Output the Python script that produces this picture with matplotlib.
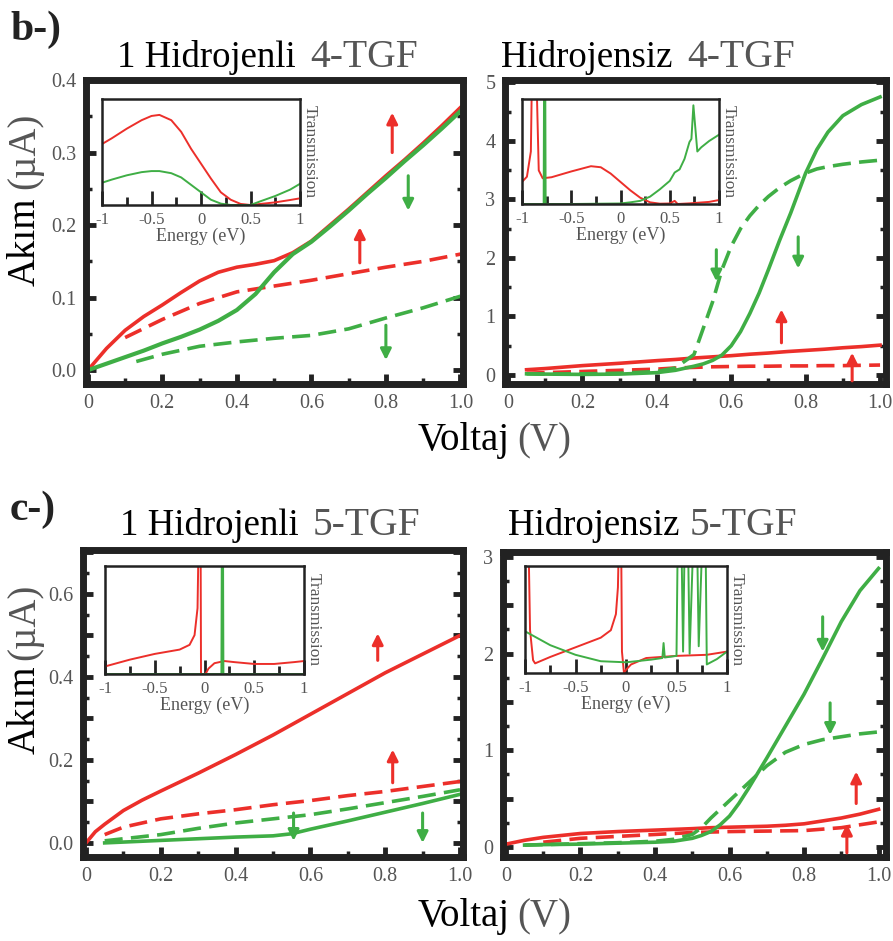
import numpy as np
import matplotlib
matplotlib.use('Agg')
import matplotlib.pyplot as plt
from matplotlib.ticker import MultipleLocator, FuncFormatter

plt.rcParams['font.family'] = ['Liberation Serif', 'DejaVu Serif']

RED = '#ec2f2a'
GREEN = '#3fae45'
GREY = '#555555'

# ---- b-) 1 Hidrojenli 4-TGF : current (uA) vs voltage (V)
v_b1 = [0, 0.05, 0.1, 0.15, 0.2, 0.25, 0.3, 0.35, 0.4, 0.45, 0.5, 0.55, 0.6, 0.65, 0.7, 0.75, 0.8, 0.85, 0.9, 0.95, 1.0]
up_solid_b1 = [0, 0.03, 0.055, 0.074, 0.09, 0.107, 0.123, 0.135, 0.142, 0.146, 0.151, 0.162, 0.178, 0.2, 0.222, 0.245, 0.268, 0.29, 0.313, 0.337, 0.362]
dn_solid_b1 = [0, 0.009, 0.018, 0.027, 0.037, 0.046, 0.056, 0.068, 0.083, 0.105, 0.135, 0.16, 0.177, 0.198, 0.22, 0.243, 0.265, 0.288, 0.31, 0.333, 0.357]
v_b1_dash = [0.1, 0.2, 0.3, 0.4, 0.5, 0.6, 0.7, 0.8, 0.9, 1.0]
up_dash_b1 = [0.045, 0.07, 0.092, 0.108, 0.116, 0.124, 0.133, 0.142, 0.15, 0.16]
v_b1_gdash = [0.13, 0.2, 0.3, 0.4, 0.5, 0.6, 0.7, 0.8, 0.9, 1.0]
dn_dash_b1 = [0.012, 0.022, 0.033, 0.039, 0.044, 0.048, 0.057, 0.072, 0.086, 0.102]

# ---- b-) Hidrojensiz 4-TGF
v_b2 = [0.05, 0.1, 0.2, 0.3, 0.4, 0.45, 0.5, 0.55, 0.6, 0.65, 0.7, 0.75, 0.8, 0.85, 0.9, 0.95, 1.0]
up_solid_b2 = [0.09, 0.11, 0.16, 0.2, 0.245, 0.265, 0.29, 0.31, 0.33, 0.355, 0.375, 0.4, 0.42, 0.44, 0.465, 0.485, 0.51]
up_dash_b2 = [0.03, 0.04, 0.06, 0.08, 0.1, 0.12, 0.13, 0.14, 0.145, 0.15, 0.15, 0.155, 0.155, 0.16, 0.16, 0.165, 0.17]
v_b2_g = [0.05, 0.1, 0.2, 0.3, 0.4, 0.45, 0.5, 0.525, 0.55, 0.575, 0.6, 0.625, 0.65, 0.675, 0.7, 0.73, 0.76, 0.8, 0.83, 0.86, 0.9, 0.95, 1.0]
dn_solid_b2 = [0.02, 0.015, 0.01, 0.015, 0.04, 0.08, 0.15, 0.19, 0.25, 0.34, 0.5, 0.74, 1.05, 1.4, 1.8, 2.3, 2.77, 3.45, 3.85, 4.15, 4.43, 4.62, 4.75]
dn_dash_b2 = [0.02, 0.015, 0.02, 0.03, 0.06, 0.12, 0.35, 0.8, 1.25, 1.8, 2.2, 2.5, 2.72, 2.9, 3.05, 3.2, 3.32, 3.45, 3.52, 3.56, 3.6, 3.64, 3.67]

# ---- c-) 1 Hidrojenli 5-TGF
v_c1 = [0, 0.025, 0.05, 0.1, 0.15, 0.2, 0.3, 0.4, 0.5, 0.6, 0.7, 0.8, 0.9, 1.0]
up_solid_c1 = [0, 0.027, 0.045, 0.078, 0.103, 0.125, 0.168, 0.213, 0.26, 0.31, 0.36, 0.41, 0.455, 0.5]
v_c1_dash = [0.05, 0.1, 0.2, 0.3, 0.4, 0.5, 0.6, 0.7, 0.8, 0.9, 1.0]
up_dash_c1 = [0.02, 0.038, 0.058, 0.07, 0.08, 0.092, 0.102, 0.114, 0.124, 0.136, 0.148]
dn_dash_c1 = [0.005, 0.01, 0.02, 0.035, 0.048, 0.058, 0.068, 0.082, 0.097, 0.112, 0.128]
v_c1_gsolid = [0.05, 0.1, 0.2, 0.3, 0.4, 0.5, 0.55, 0.6, 0.7, 0.8, 0.9, 1.0]
dn_solid_c1 = [0.0, 0.002, 0.006, 0.01, 0.014, 0.017, 0.022, 0.033, 0.053, 0.074, 0.095, 0.117]

# ---- c-) Hidrojensiz 5-TGF
v_c2 = [0, 0.05, 0.1, 0.2, 0.3, 0.4, 0.5, 0.55, 0.6, 0.65, 0.7, 0.75, 0.8, 0.85, 0.9, 0.95, 1.0]
up_solid_c2 = [0.03, 0.07, 0.1, 0.14, 0.16, 0.175, 0.19, 0.2, 0.205, 0.21, 0.215, 0.225, 0.24, 0.27, 0.3, 0.34, 0.39]
v_c2_rdash = [0.1, 0.2, 0.3, 0.4, 0.5, 0.6, 0.7, 0.8, 0.9, 1.0]
up_dash_c2 = [0.05, 0.09, 0.11, 0.13, 0.15, 0.16, 0.165, 0.17, 0.2, 0.26]
v_c2_g = [0.05, 0.1, 0.2, 0.3, 0.4, 0.45, 0.5, 0.525, 0.55, 0.575, 0.6, 0.625, 0.65, 0.7, 0.75, 0.8, 0.85, 0.9, 0.95, 1.0]
dn_solid_c2 = [0.02, 0.025, 0.03, 0.04, 0.05, 0.06, 0.09, 0.12, 0.16, 0.23, 0.32, 0.45, 0.6, 0.92, 1.25, 1.58, 1.95, 2.33, 2.65, 2.88]
dn_dash_c2 = [0.02, 0.025, 0.035, 0.045, 0.06, 0.08, 0.13, 0.2, 0.3, 0.39, 0.48, 0.57, 0.66, 0.84, 0.98, 1.06, 1.11, 1.14, 1.17, 1.19]

# spin arrows: x, tail y, head y, colour
arrows_b1 = [(0.817, 0.30, 0.355, RED), (0.86, 0.268, 0.22, GREEN),
             (0.73, 0.148, 0.197, RED), (0.80, 0.062, 0.014, GREEN)]
arrows_b2 = [(0.56, 2.14, 1.6, GREEN), (0.78, 2.36, 1.82, GREEN),
             (0.735, 0.55, 1.12, RED), (0.925, -0.1, 0.38, RED)]
arrows_c1 = [(0.78, 0.44, 0.505, RED), (0.82, 0.145, 0.225, RED),
             (0.555, 0.072, 0.005, GREEN), (0.90, 0.072, 0.0, GREEN)]
arrows_c2 = [(0.85, 2.38, 2.02, GREEN), (0.87, 1.49, 1.16, GREEN),
             (0.94, 0.45, 0.78, RED), (0.915, -0.06, 0.24, RED)]

# ---- insets: transmission vs energy (arbitrary units, top of box = 1)
e_b1 = [-1, -0.9, -0.75, -0.6, -0.5, -0.42, -0.3, -0.2, -0.1, 0, 0.1, 0.2, 0.3, 0.4, 0.5, 0.6, 0.75, 0.9, 1.0]
t_up_b1 = [0.575, 0.63, 0.72, 0.8, 0.84, 0.85, 0.8, 0.69, 0.53, 0.39, 0.25, 0.12, 0.05, 0.01, 0.0, 0.01, 0.025, 0.047, 0.063]
t_dn_b1 = [0.21, 0.24, 0.28, 0.31, 0.32, 0.32, 0.30, 0.26, 0.19, 0.12, 0.05, 0.013, 0.0, 0.0, 0.0, 0.035, 0.085, 0.145, 0.2]

e_up_b2 = [-1, -0.95, -0.91, -0.895, -0.86, -0.845, -0.83, -0.79, -0.7, -0.5, -0.3, -0.2, -0.1, 0, 0.1, 0.2, 0.3, 0.4, 0.5, 0.55, 0.58, 0.7, 0.9, 1.0]
t_up_b2 = [0.21, 0.26, 0.5, 1.5, 1.5, 0.9, 0.32, 0.245, 0.255, 0.31, 0.36, 0.35, 0.29, 0.21, 0.13, 0.06, 0.016, 0.003, 0.005, 0.03, 0.0, 0.006, 0.02, 0.038]
e_dn_b2 = [-1, -0.78, -0.775, -0.765, -0.76, -0.5, 0, 0.1, 0.2, 0.3, 0.4, 0.5, 0.55, 0.6, 0.65, 0.7, 0.72, 0.74, 0.76, 0.78, 0.82, 0.9, 1.0]
t_dn_b2 = [0, 0, 1.5, 1.5, 0, 0, 0.005, 0.016, 0.03, 0.07, 0.14, 0.22, 0.3, 0.33, 0.43, 0.59, 0.62, 0.94, 0.72, 0.5, 0.54, 0.6, 0.66]

e_up_c1 = [-1, -0.75, -0.5, -0.25, -0.15, -0.1, -0.07, -0.055, -0.04, -0.035, 0.01, 0.04, 0.1, 0.2, 0.3, 0.5, 0.7, 0.9, 1.0]
t_up_c1 = [0.07, 0.133, 0.186, 0.226, 0.27, 0.36, 0.61, 1.5, 1.5, 0.0, 0.0, 0.05, 0.1, 0.12, 0.11, 0.093, 0.093, 0.11, 0.12]
e_dn_c1 = [-1, 0.17, 0.175, 0.185, 0.19, 1.0]
t_dn_c1 = [0, 0, 1.5, 1.5, 0, 0]

e_up_c2 = [-0.97, -0.95, -0.92, -0.9, -0.75, -0.5, -0.25, -0.15, -0.1, -0.08, -0.065, -0.05, -0.04, -0.02, 0.0, 0.05, 0.2, 0.5, 0.8, 1.0]
t_up_c2 = [1.5, 0.4, 0.12, 0.09, 0.15, 0.24, 0.33, 0.4, 0.55, 0.8, 1.5, 1.5, 0.2, 0.0, 0.03, 0.08, 0.14, 0.16, 0.17, 0.2]
e_dn_c2 = [-1, -0.75, -0.5, -0.25, 0, 0.25, 0.36, 0.372, 0.384, 0.5, 0.515, 0.545, 0.565, 0.585, 0.61, 0.63, 0.675, 0.7, 0.72, 0.765, 0.785, 0.8, 0.9, 1.0]
t_dn_c2 = [0.39, 0.26, 0.17, 0.11, 0.1, 0.125, 0.14, 0.28, 0.145, 0.16, 1.5, 1.5, 0.2, 1.5, 1.5, 0.18, 1.5, 1.5, 0.25, 1.5, 1.5, 0.08, 0.13, 0.2]

W, H = 893, 941
fig = plt.figure(figsize=(W / 100, H / 100), dpi=100)


def box(l, t, r, b):
    # pixel box -> figure axes
    return fig.add_axes([l / W, 1 - b / H, (r - l) / W, (b - t) / H])


def ftext(x, y, s, **kw):
    fig.text(x / W, 1 - y / H, s, **kw)


def main_panel(pos, xlim, ylim, ymajor, yminor, ylabel_every, yfmt):
    ax = box(*pos)
    ax.set_xlim(*xlim)
    ax.set_ylim(*ylim)
    for s in ax.spines.values():
        s.set_linewidth(5)
        s.set_color('#222222')
    ax.xaxis.set_major_locator(MultipleLocator(0.2))
    ax.xaxis.set_minor_locator(MultipleLocator(0.1))
    ax.yaxis.set_major_locator(MultipleLocator(ymajor))
    ax.yaxis.set_minor_locator(MultipleLocator(yminor))
    ax.xaxis.set_major_formatter(FuncFormatter(lambda v, p: '0' if abs(v) < 1e-9 else '%.1f' % v))

    def yf(v, p):
        k = round(v / ymajor)
        if k % ylabel_every:
            return ''
        return yfmt % v
    ax.yaxis.set_major_formatter(FuncFormatter(yf))
    ax.tick_params(which='both', direction='in', left=True, right=True, top=False, bottom=True,
                   color='#222222', labelcolor=GREY, labelsize=14.5)
    ax.tick_params(which='major', length=7, width=3.5, pad=7)
    ax.tick_params(which='minor', length=4, width=2.5)
    return ax


def draw_arrows(ax, arrows):
    for x, y0, y1, c in arrows:
        ax.annotate('', xy=(x, y1), xytext=(x, y0),
                    arrowprops=dict(arrowstyle='-|>', color=c, lw=2.2, mutation_scale=16,
                                    shrinkA=0, shrinkB=0))


def inset(pos):
    ax = box(*pos)
    ax.set_xlim(-1, 1)
    ax.set_ylim(0, 1)
    for s in ax.spines.values():
        s.set_linewidth(1.8)
        s.set_color('#222222')
    ax.set_xticks([-1, -0.5, 0, 0.5, 1])
    ax.set_xticklabels(['-1', '-0.5', '0', '0.5', '1'])
    ax.xaxis.set_minor_locator(MultipleLocator(0.25))
    ax.set_yticks([])
    ax.tick_params(which='both', direction='in', top=False, bottom=True, color='#222222',
                   labelcolor=GREY, labelsize=12, pad=5)
    ax.tick_params(which='major', length=10, width=2)
    ax.tick_params(which='minor', length=6, width=2)
    ax.set_xlabel('Energy (eV)', fontsize=13, color=GREY, labelpad=0)
    ax.yaxis.set_label_position('right')
    ax.set_ylabel('Transmission', fontsize=12.5, color=GREY, rotation=-90, labelpad=13)
    return ax


lw = 2.6
dash = (5, 2.3)

# b-) left
ax = main_panel((86, 80, 463, 384), (-0.005, 1.007), (-0.019, 0.4), 0.1, 0.05, 1, '%.1f')
ax.plot(v_b1, up_solid_b1, color=RED, lw=lw)
ax.plot(v_b1_dash, up_dash_b1, color=RED, lw=lw, dashes=dash)
ax.plot(v_b1_gdash, dn_dash_b1, color=GREEN, lw=lw, dashes=dash)
ax.plot(v_b1, dn_solid_b1, color=GREEN, lw=lw + 0.4)
draw_arrows(ax, arrows_b1)
ai = inset((102, 99, 300, 205))
ai.plot(e_b1, t_up_b1, color=RED, lw=1.4)
ai.plot(e_b1, t_dn_b1, color=GREEN, lw=1.4)

# b-) right
ax = main_panel((505, 80, 886, 384), (-0.008, 1.016), (-0.154, 5.04), 1, 0.5, 1, '%d')
ax.plot(v_b2, up_solid_b2, color=RED, lw=lw)
ax.plot(v_b2, up_dash_b2, color=RED, lw=lw, dashes=dash)
ax.plot(v_b2_g, dn_dash_b2, color=GREEN, lw=lw, dashes=dash)
ax.plot(v_b2_g, dn_solid_b2, color=GREEN, lw=lw)
draw_arrows(ax, arrows_b2)
ai = inset((522, 99, 719, 204))
ai.plot(e_up_b2, t_up_b2, color=RED, lw=1.4)
ai.plot(e_dn_b2, t_dn_b2, color=GREEN, lw=1.4)

# c-) left
ax = main_panel((83, 550, 463, 857), (-0.008, 1.008), (-0.034, 0.706), 0.1, 0.05, 2, '%.1f')
ax.plot(v_c1, up_solid_c1, color=RED, lw=lw)
ax.plot(v_c1_dash, up_dash_c1, color=RED, lw=lw, dashes=dash)
ax.plot(v_c1_dash, dn_dash_c1, color=GREEN, lw=lw, dashes=dash)
ax.plot(v_c1_gsolid, dn_solid_c1, color=GREEN, lw=lw)
draw_arrows(ax, arrows_c1)
ai = inset((105, 566, 304, 674))
ai.plot(e_up_c1, t_up_c1, color=RED, lw=1.4)
ai.plot(e_dn_c1, t_dn_c1, color=GREEN, lw=1.4)

# c-) right
ax = main_panel((503, 552, 886, 857), (-0.008, 1.02), (-0.103, 3.05), 0.5, 0.25, 2, '%d')
ax.plot(v_c2, up_solid_c2, color=RED, lw=lw)
ax.plot(v_c2_rdash, up_dash_c2, color=RED, lw=lw, dashes=dash)
ax.plot(v_c2_g, dn_dash_c2, color=GREEN, lw=lw, dashes=dash)
ax.plot(v_c2_g, dn_solid_c2, color=GREEN, lw=lw)
draw_arrows(ax, arrows_c2)
ai = inset((525, 566, 727, 673))
ai.plot(e_up_c2, t_up_c2, color=RED, lw=1.4)
ai.plot(e_dn_c2, t_dn_c2, color=GREEN, lw=1.4)

# titles and labels
ftext(10, 40, 'b-)', fontsize=30, fontweight='bold', color='#222222', va='baseline')
ftext(10, 520, 'c-)', fontsize=30, fontweight='bold', color='#222222', va='baseline')
for x1, x2, y, a, b in [(117, 310, 67, '1 Hidrojenli', '4-TGF'),
                        (501, 687, 67, 'Hidrojensiz', '4-TGF'),
                        (120, 313, 535, '1 Hidrojenli', '5-TGF'),
                        (508, 690, 535, 'Hidrojensiz', '5-TGF')]:
    ftext(x1, y, a, fontsize=26.5, color='black', va='baseline')
    ftext(x2, y, b, fontsize=28.5, color=GREY, va='baseline')

for yc1, yc2 in [(242, 151), (710, 622)]:
    ftext(25, yc1, 'Akım', fontsize=28, rotation=90, ha='center', va='center', color='black')
    ftext(25, yc2, '(µA)', fontsize=28, rotation=90, ha='center', va='center', color=GREY)

for yb in [450, 926]:
    ftext(510, yb, 'Voltaj', fontsize=28, ha='right', va='baseline', color='black')
    ftext(517, yb, '(V)', fontsize=28, ha='left', va='baseline', color=GREY)

fig.savefig('out.png', dpi=100)
